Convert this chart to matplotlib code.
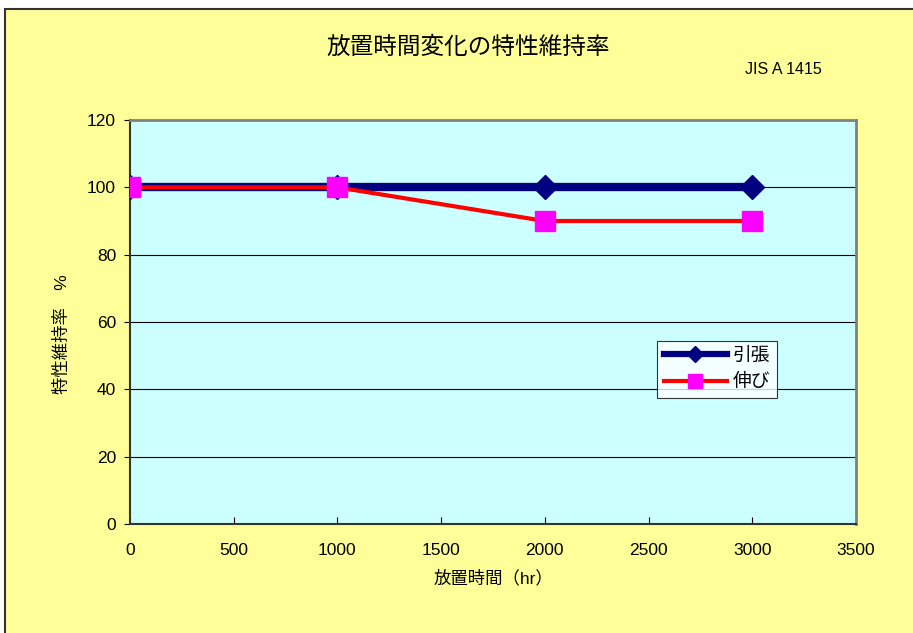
import matplotlib
matplotlib.use("Agg")
import matplotlib.pyplot as plt
from matplotlib.patches import Rectangle

plt.rcParams['font.family'] = ['Liberation Sans', 'Noto Sans CJK JP']

hours = [0, 1000, 2000, 3000]
tensile = [100, 100, 100, 100]
elongation = [100, 100, 90, 90]

fig = plt.figure(figsize=(9.13, 6.33), dpi=100)
fig.patch.set_facecolor('white')

# yellow chart area with dark border
bg = Rectangle((5 / 913, -0.01), 1.0, 1 - 9 / 633 + 0.01, transform=fig.transFigure,
               facecolor='#FFFF99', edgecolor='#333333', linewidth=1.5, zorder=-1)
fig.patches.append(bg)

ax = fig.add_axes([130 / 913, 1 - 524 / 633, 726 / 913, 404 / 633])
ax.set_facecolor('#CCFFFF')

ax.plot(hours, tensile, color='#000080', linewidth=6, marker='D', markersize=12,
        label='引張', zorder=3)
ax.plot(hours, elongation, color='#FF0000', linewidth=3, marker='s', markersize=14,
        markerfacecolor='#FF00FF', markeredgecolor='#FF00FF', label='伸び', zorder=4)

ax.set_xlim(0, 3500)
ax.set_ylim(0, 120)
ax.set_xticks(range(0, 3501, 500))
ax.set_yticks(range(0, 121, 20))
ax.grid(axis='y', color='black', linewidth=0.8)
ax.set_axisbelow(True)
ax.tick_params(axis='x', direction='in', length=5, labelsize=12.5, pad=14)
ax.tick_params(axis='y', direction='out', length=4, labelsize=12.5, pad=6)

for s in ['left', 'bottom']:
    ax.spines[s].set_color('#333333')
    ax.spines[s].set_linewidth(1.5)
for s in ['top', 'right']:
    ax.spines[s].set_color('#808080')
    ax.spines[s].set_linewidth(2)

ax.set_xlabel('放置時間（hr）', fontsize=12.5, labelpad=8)
ax.set_ylabel('特性維持率　%', fontsize=12.5)
ax.yaxis.set_label_coords(-0.082, 0.47)

fig.text(468 / 913, 1 - 48 / 633, '放置時間変化の特性維持率', fontsize=17,
         ha='center', va='center')
fig.text(783 / 913, 1 - 70 / 633, 'JIS A 1415', fontsize=11.5, ha='center', va='center')

leg = ax.legend(loc='upper left', bbox_to_anchor=((657 - 130) / 726, (524 - 341) / 404),
                fontsize=13.5, frameon=True, fancybox=False, handlelength=3.4,
                borderpad=0.35, labelspacing=0.5, handletextpad=0.3, borderaxespad=0,
                markerscale=0.7)
leg.get_frame().set_edgecolor('black')
leg.get_frame().set_facecolor('white')
leg.get_frame().set_linewidth(0.8)
leg.get_lines()[0].set_linewidth(4.5)

fig.savefig('out.png', dpi=100)
